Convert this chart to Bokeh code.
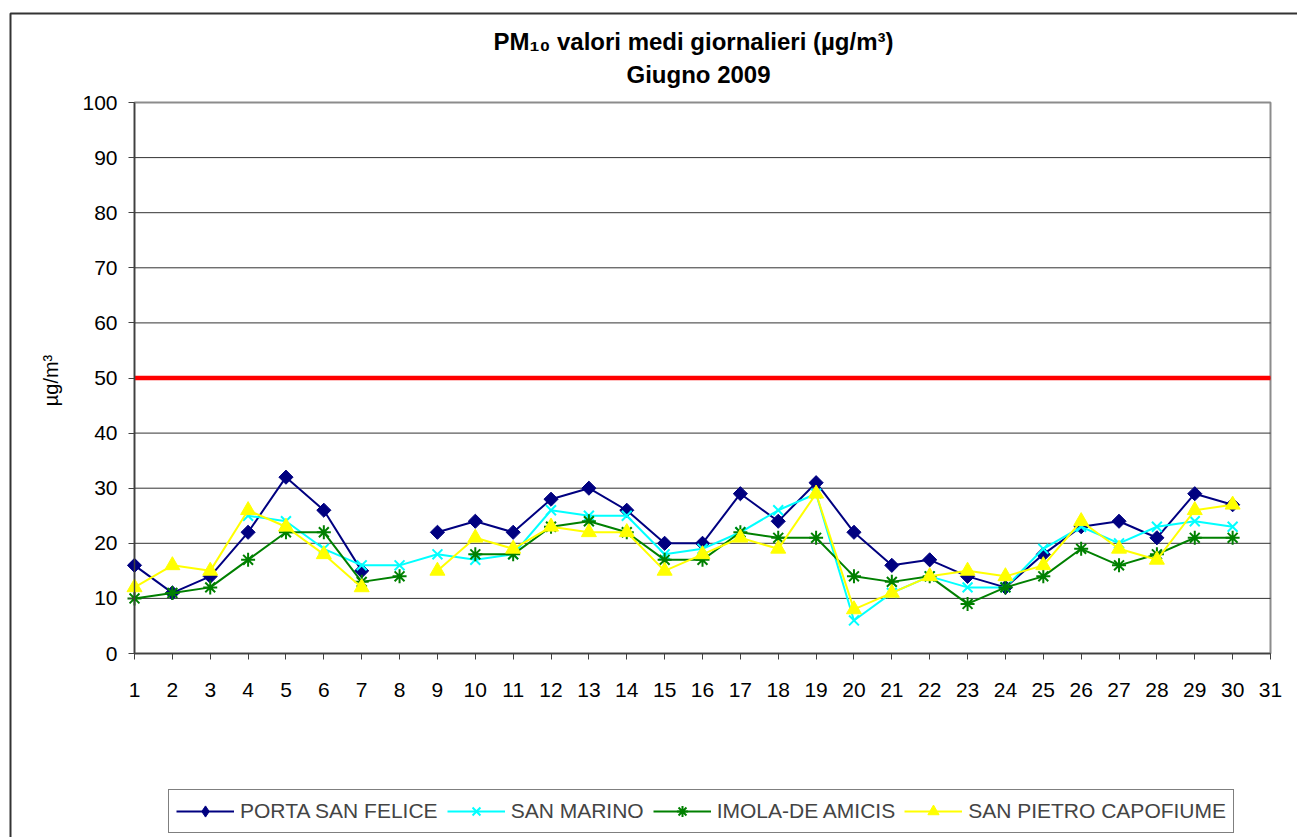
import numpy as np
from bokeh.plotting import figure
from bokeh.models import (Range1d, FixedTicker, LinearAxis, Legend, LegendItem, Label,
                          BoxAnnotation)
from bokeh.embed import file_html
from bokeh.resources import INLINE

nan = np.nan

# ---- data ----
days = list(range(1, 31))
x_ticks = list(range(1, 32))
y_ticks = list(range(0, 101, 10))
limit_value = 50

series_names = ["PORTA SAN FELICE", "SAN MARINO", "IMOLA-DE AMICIS", "SAN PIETRO CAPOFIUME"]
porta_san_felice = [16, 11, 14, 22, 32, 26, 15, nan, 22, 24, 22, 28, 30, 26, 20,
                    20, 29, 24, 31, 22, 16, 17, 14, 12, 18, 23, 24, 21, 29, 27]
san_marino = [nan, nan, nan, 25, 24, 19, 16, 16, 18, 17, 18, 26, 25, 25, 18,
              19, 22, 26, 29, 6, 11, 14, 12, 12, 19, 23, 20, 23, 24, 23]
imola_de_amicis = [10, 11, 12, 17, 22, 22, 13, 14, nan, 18, 18, 23, 24, 22, 17,
                   17, 22, 21, 21, 14, 13, 14, 9, 12, 14, 19, 16, 18, 21, 21]
san_pietro_capofiume = [12, 16, 15, 26, 23, 18, 12, nan, 15, 21, 19, 23, 22, 22, 15,
                        18, 21, 19, 29, 8, 11, 14, 15, 14, 16, 24, 19, 17, 26, 27]

title_line1 = "PM\u2081\u2080 valori medi giornalieri (\u00b5g/m\u00b3)"
title_line2 = "Giugno 2009"
y_label = "\u00b5g/m\u00b3"

FONT = "Liberation Sans"

# ---- layout geometry (pixels) ----
W, H = 1297, 837
PL, PR, PT, PB = 134, 1270, 102, 653   # plot-area edges on the page

x0, x1 = x_ticks[0], x_ticks[-1]
y0, y1 = y_ticks[0], y_ticks[-1]
xs = (x1 - x0) / (PR - PL)
ys = (y1 - y0) / (PB - PT)
x_range = Range1d(x0 - PL * xs, x1 + (W - PR) * xs)
y_range = Range1d(y0 - (H - PB) * ys, y1 + PT * ys)

p = figure(width=W, height=H, output_backend="svg", toolbar_location=None,
           title=None, x_range=x_range, y_range=y_range,
           x_axis_location=None, y_axis_location=None,
           min_border=0, background_fill_color="white", border_fill_color="white")
p.outline_line_color = None
p.grid.visible = False

# plot-area border (grey)
p.add_layout(BoxAnnotation(left=x0, right=x1, bottom=y0, top=y1, fill_color=None,
                           line_color="#8c8c8c", line_alpha=1, line_width=2,
                           level="underlay"))

# horizontal grid lines
gy = y_ticks[1:-1]
p.segment(x0=[x0] * len(gy), x1=[x1] * len(gy), y0=gy, y1=gy,
          line_color="#333333", line_width=1)

# axes at fixed locations
xaxis = LinearAxis(fixed_location=y0, bounds=(x0, x1), ticker=FixedTicker(ticks=x_ticks))
yaxis = LinearAxis(fixed_location=x0, bounds=(y0, y1), ticker=FixedTicker(ticks=y_ticks))
for ax in (xaxis, yaxis):
    ax.axis_line_color = "#404040"
    ax.axis_line_width = 1.5
    ax.major_tick_line_color = "#404040"
    ax.major_tick_line_width = 1
    ax.major_tick_out = 6
    ax.major_tick_in = 0
    ax.minor_tick_line_color = None
    ax.major_label_text_font = FONT
    ax.major_label_text_font_size = "21px"
    ax.major_label_text_color = "black"
xaxis.major_label_standoff = 23
yaxis.major_label_standoff = 11
p.add_layout(xaxis, "below")
p.add_layout(yaxis, "left")

# limit line
p.line([x0, x1], [limit_value, limit_value], line_color="#ff0000", line_width=4.5)

x = np.array(days, dtype=float)

l1 = p.line(x, np.array(porta_san_felice, dtype=float), line_color="#000080", line_width=2)
m1 = p.scatter(x, np.array(porta_san_felice, dtype=float), marker="square", angle=np.pi / 4,
               size=10, fill_color="#000080", line_color="#000080")
l2 = p.line(x, np.array(san_marino, dtype=float), line_color="#00ffff", line_width=2)
m2 = p.scatter(x, np.array(san_marino, dtype=float), marker="x", size=14,
               line_color="#00ffff", line_width=2)
l3 = p.line(x, np.array(imola_de_amicis, dtype=float), line_color="#008000", line_width=2)
m3 = p.scatter(x, np.array(imola_de_amicis, dtype=float), marker="asterisk", size=14,
               line_color="#008000", line_width=2)
l4 = p.line(x, np.array(san_pietro_capofiume, dtype=float), line_color="#ffff00", line_width=2)
m4 = p.scatter(x, np.array(san_pietro_capofiume, dtype=float), marker="triangle", size=15,
               fill_color="#ffff00", line_color="#ffff00")

# legend-only diamond glyph (no visible points)
m1_leg = p.scatter([nan], [nan], marker="diamond", size=12,
                   fill_color="#000080", line_color="#000080")

items = [LegendItem(label=series_names[0], renderers=[l1, m1_leg]),
         LegendItem(label=series_names[1], renderers=[l2, m2]),
         LegendItem(label=series_names[2], renderers=[l3, m3]),
         LegendItem(label=series_names[3], renderers=[l4, m4])]

legend = Legend(items=items, orientation="horizontal", location=(168, H - 833),
                label_text_font=FONT, label_text_font_size="21px",
                glyph_width=58, glyph_height=28, label_standoff=6, spacing=9,
                padding=7, margin=0, border_line_color="black", border_line_width=1,
                background_fill_color="white", background_fill_alpha=1)
p.add_layout(legend)

# titles
p.add_layout(Label(x=693, y=H - 41, x_units="screen", y_units="screen", text=title_line1,
                   text_font=FONT, text_font_style="bold", text_font_size="24px",
                   text_align="center", text_baseline="alphabetic", text_color="black"))
p.add_layout(Label(x=698, y=H - 74, x_units="screen", y_units="screen", text=title_line2,
                   text_font=FONT, text_font_style="bold", text_font_size="24px",
                   text_align="center", text_baseline="alphabetic", text_color="black"))

# y-axis title
p.add_layout(Label(x=50, y=H - 380, x_units="screen", y_units="screen", text=y_label,
                   angle=np.pi / 2, text_font=FONT, text_font_size="20px",
                   text_align="center", text_baseline="middle", text_color="black"))

# outer chart border
p.add_layout(BoxAnnotation(left=10, right=W + 50, top=H - 13, bottom=-50,
                           left_units="screen", right_units="screen",
                           top_units="screen", bottom_units="screen",
                           fill_color=None, line_color="#333333", line_alpha=1,
                           line_width=2))

open("out.html", "w").write(file_html(p, INLINE))
